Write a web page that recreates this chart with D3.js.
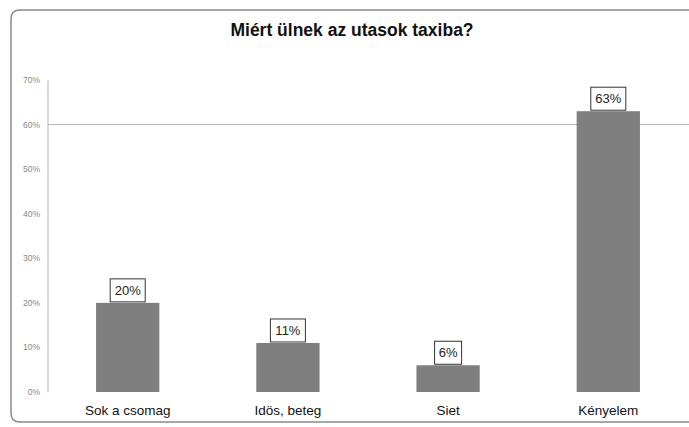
<!DOCTYPE html>
<html>
<head>
<meta charset="utf-8">
<script src="https://cdn.jsdelivr.net/npm/d3@7"></script>
<style>
  body { margin: 0; background: #fff; overflow: hidden; }
  svg { display: block; font-family: Arial, "Liberation Sans", sans-serif; }
</style>
</head>
<body>
<div id="chart"></div>
<script>
const categories = ['Sok a csomag', 'Idös, beteg', 'Siet', 'Kényelem'];
const values = [20, 11, 6, 63];
const yTicks = [0, 10, 20, 30, 40, 50, 60, 70];
const gridLines = [60];
const title = 'Miért ülnek az utasok taxiba?';

const width = 689;
const height = 427;
const margin = { top: 80, right: 1, bottom: 35, left: 48 };

const svg = d3.select('#chart').append('svg')
  .attr('width', width)
  .attr('height', height);

// frame: only left, top and bottom show, right side runs off the picture
const fx = 11, fy = 10, fb = 422, r = 9;
const frame = d3.path();
frame.moveTo(width, fy);
frame.lineTo(fx + r, fy);
frame.quadraticCurveTo(fx, fy, fx, fy + r);
frame.lineTo(fx, fb - r);
frame.quadraticCurveTo(fx, fb, fx + r, fb);
frame.lineTo(width, fb);
svg.append('path')
  .attr('d', frame.toString())
  .attr('fill', 'none')
  .attr('stroke', '#8a8a8a')
  .attr('stroke-width', 1.5);

svg.append('text')
  .attr('x', 352).attr('y', 36)
  .attr('text-anchor', 'middle')
  .attr('font-size', 17.5)
  .attr('font-weight', 'bold')
  .attr('fill', '#111')
  .text(title);

const x = d3.scaleBand()
  .domain(categories)
  .range([margin.left, width - margin.right])
  .paddingInner(0.605)
  .paddingOuter(0.3);

const y = d3.scaleLinear()
  .domain([0, 70])
  .range([392, 80]);

// y axis line
svg.append('line')
  .attr('x1', margin.left).attr('x2', margin.left)
  .attr('y1', y(70)).attr('y2', y(0))
  .attr('stroke', '#b5b5b5');

// gridline
svg.selectAll('.grid').data(gridLines).join('line')
  .attr('class', 'grid')
  .attr('x1', margin.left).attr('x2', width)
  .attr('y1', d => y(d)).attr('y2', d => y(d))
  .attr('stroke', '#b5b5b5');

svg.selectAll('.ytick').data(yTicks).join('text')
  .attr('class', 'ytick')
  .attr('x', 40)
  .attr('y', d => y(d))
  .attr('dy', '0.35em')
  .attr('text-anchor', 'end')
  .attr('font-size', 8.5)
  .attr('fill', '#888')
  .text(d => d + '%');

const data = categories.map((c, i) => ({ cat: c, value: values[i] }));

svg.selectAll('.bar').data(data).join('rect')
  .attr('class', 'bar')
  .attr('x', d => x(d.cat))
  .attr('width', x.bandwidth())
  .attr('y', d => y(d.value))
  .attr('height', d => y(0) - y(d.value))
  .attr('fill', '#7f7f7f');

const labels = svg.selectAll('.lbl').data(data).join('g')
  .attr('class', 'lbl')
  .attr('transform', d => `translate(${x(d.cat) + x.bandwidth() / 2},${y(d.value)})`);

labels.append('rect')
  .attr('x', d => d.value >= 10 ? -17.5 : -13.5)
  .attr('width', d => d.value >= 10 ? 35 : 27)
  .attr('y', -24)
  .attr('height', 23)
  .attr('fill', '#fff')
  .attr('stroke', '#333')
  .attr('stroke-width', 1);

labels.append('text')
  .attr('y', -8)
  .attr('text-anchor', 'middle')
  .attr('font-size', 13)
  .attr('fill', '#222')
  .text(d => d.value + '%');

svg.selectAll('.xlbl').data(categories).join('text')
  .attr('class', 'xlbl')
  .attr('x', d => x(d) + x.bandwidth() / 2)
  .attr('y', 415)
  .attr('text-anchor', 'middle')
  .attr('font-size', 13.5)
  .attr('fill', '#111')
  .text(d => d);
</script>
</body>
</html>
